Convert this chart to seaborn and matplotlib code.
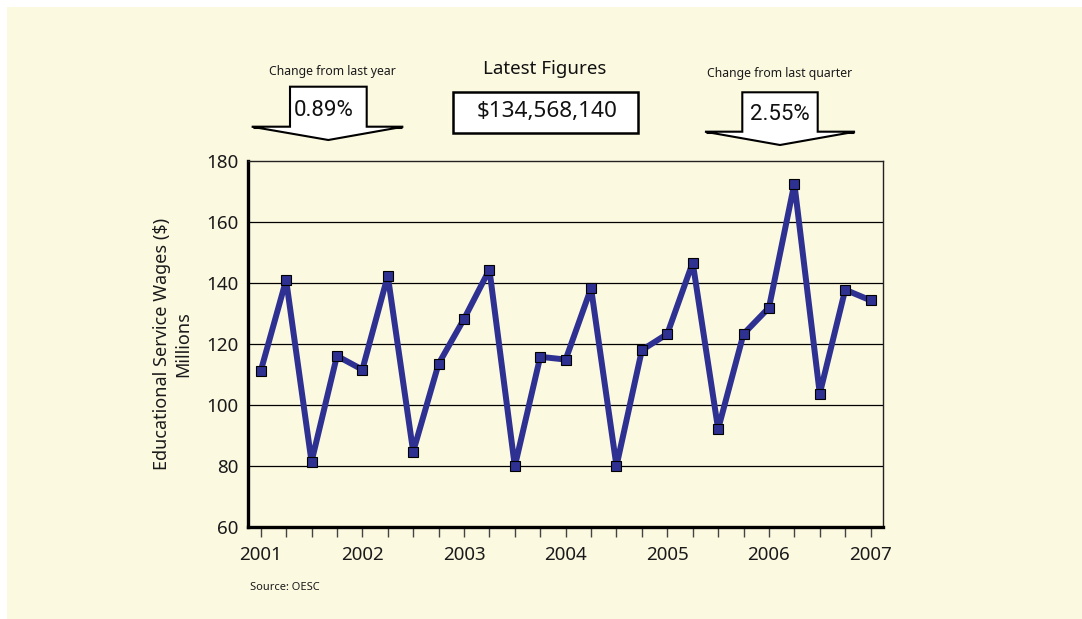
import numpy as np
import pandas as pd
import matplotlib
matplotlib.use("Agg")
import matplotlib.pyplot as plt
import seaborn as sns
from matplotlib.patches import Polygon, Rectangle
from matplotlib.lines import Line2D
from matplotlib import font_manager

# ---------------- data ----------------
quarters = [2001 + i * 0.25 for i in range(25)]
wages = [111.0, 140.9, 81.3, 116.0, 111.5, 142.3, 84.6, 113.4, 128.1, 144.3,
         79.8, 115.7, 114.8, 138.2, 79.9, 117.9, 123.2, 146.6, 92.0, 123.2,
         131.8, 172.5, 103.6, 137.7, 134.2]
year_ticks = [2001, 2002, 2003, 2004, 2005, 2006, 2007]
y_ticks = [60, 80, 100, 120, 140, 160, 180]
ylabel = "Educational Service Wages ($)\nMillions"
change_year_label = "Change from last year"
change_year_value = "0.89%"
latest_label = "Latest Figures"
latest_value = "$134,568,140"
change_q_label = "Change from last quarter"
change_q_value = "2.55%"
source = "Source: OESC"

df = pd.DataFrame({"quarter": quarters, "wages": wages})

sns.set_theme(style="white")
plt.rcParams["font.family"] = ["Noto Sans", "DejaVu Sans"]

installed = {f.name for f in font_manager.fontManager.ttflist}
narrow_fam = "Roboto" if "Roboto" in installed else "Noto Sans"
for cand in ["Liberation Sans Narrow", "DejaVu Sans Condensed"]:
    if cand in installed:
        narrow_fam = cand
        break

W, H = 1082, 619
CREAM = "#FCF9E1"
BLUE = "#2E3192"
fig = plt.figure(figsize=(W / 100, H / 100), dpi=100)
fig.patch.set_facecolor("white")

def fx(x):
    return x / W

def fy(y):
    return 1 - y / H

fig.patches.append(Rectangle((fx(7), 0), 1 - fx(7), fy(7), transform=fig.transFigure,
                             facecolor=CREAM, edgecolor="none", zorder=-10))

left, right, top, bottom = 248, 883.3, 160.7, 526.7
ax = fig.add_axes([fx(left), fy(bottom), fx(right) - fx(left), (bottom - top) / H])
ax.set_facecolor(CREAM)

sns.lineplot(data=df, x="quarter", y="wages", ax=ax, color=BLUE, linewidth=4.3,
             marker="s", markersize=6.5, markerfacecolor=BLUE, markeredgecolor="black",
             markeredgewidth=0.8, zorder=3)

ax.set_xlim(2001 - 0.125, 2007 + 0.125)
ax.set_ylim(60, 180)
ax.set_xticks(quarters)
ax.set_xticklabels([str(int(q)) if abs(q - round(q)) < 1e-9 else "" for q in quarters],
                   fontsize=13.5, color="#1a1a1a")
ax.set_yticks(y_ticks)
ax.set_yticklabels([str(v) for v in y_ticks], fontsize=13.5, color="#1a1a1a")
ax.tick_params(axis="x", direction="out", length=7, width=1, color="#444444", pad=7, bottom=True)
ax.tick_params(axis="y", length=0, pad=7)
for v in y_ticks[1:-1]:
    ax.axhline(v, color="black", linewidth=0.9, zorder=1)
ax.set_xlabel("")
ax.set_ylabel(ylabel, fontsize=13, color="#1a1a1a", labelpad=10, linespacing=1.2)

for s in ["left", "bottom"]:
    ax.spines[s].set_linewidth(2.4)
    ax.spines[s].set_color("black")
for s in ["top", "right"]:
    ax.spines[s].set_linewidth(1.0)
    ax.spines[s].set_color("#222222")

def down_arrow(sl, sr, stop, hy, hl, hr, tipx, tipy):
    pts = [(sl, stop), (sr, stop), (sr, hy), (hr, hy), (tipx, tipy), (hl, hy), (sl, hy)]
    poly = Polygon([(fx(x), fy(y)) for x, y in pts], closed=True, transform=fig.transFigure,
                   facecolor="white", edgecolor="black", linewidth=1.5, zorder=2)
    fig.patches.append(poly)
    fig.lines.append(Line2D([fx(hl + 1), fx(sl)], [fy(hy), fy(hy)], transform=fig.transFigure,
                            color="black", linewidth=2.2, solid_capstyle="butt"))
    fig.lines.append(Line2D([fx(sr), fx(hr - 1)], [fy(hy), fy(hy)], transform=fig.transFigure,
                            color="black", linewidth=2.2, solid_capstyle="butt"))

# left arrow
fig.text(fx(332), fy(72), change_year_label, ha="center", va="center", fontsize=8.8, color="#1a1a1a")
down_arrow(290, 366.7, 86.7, 126.7, 251.7, 403.3, 328.3, 140)
fig.text(fx(324), fy(110), change_year_value, ha="center", va="center", fontsize=16,
         family=[narrow_fam, "DejaVu Sans"], color="#111111")

# latest figures box
fig.text(fx(545), fy(69), latest_label, ha="center", va="center", fontsize=13.5,
         color="#111111", fontweight="medium")
fig.patches.append(Rectangle((fx(453.3), fy(133.3)), fx(638.3) - fx(453.3), (133.3 - 91.7) / H,
                             transform=fig.transFigure, facecolor="white", edgecolor="black",
                             linewidth=1.8))
fig.text(fx(547), fy(112), latest_value, ha="center", va="center", fontsize=16.2, color="#111111")

# right arrow
fig.text(fx(780), fy(73), change_q_label, ha="center", va="center", fontsize=8.8, color="#1a1a1a")
down_arrow(742.3, 817.7, 92.3, 131.7, 705, 855, 780, 145)
fig.text(fx(780), fy(115), change_q_value, ha="center", va="center", fontsize=16,
         family=[narrow_fam, "DejaVu Sans"], color="#111111")

fig.text(fx(250), fy(588), source, ha="left", va="center", fontsize=8, color="#1a1a1a")

fig.savefig("out.png", dpi=100, facecolor=fig.get_facecolor())
